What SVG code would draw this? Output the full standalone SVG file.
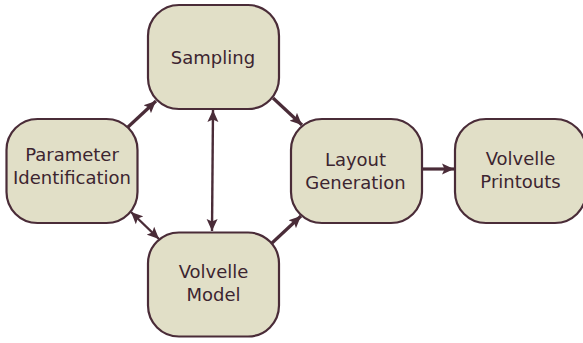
<svg xmlns="http://www.w3.org/2000/svg" width="583" height="343" viewBox="0 0 583 343">
<style>
.box{fill:#e1dfc7;stroke:#4a2c38;stroke-width:2.2}
.lbl{font-family:"DejaVu Sans",sans-serif;font-size:18px;fill:#3c2530;text-anchor:middle}
.c{fill:none;stroke:#4a2c38;stroke-width:3.2}
.c2{fill:none;stroke:#4a2c38;stroke-width:2.4}
.h{fill:#4a2c38}
</style>
<defs>
<marker id="a" markerUnits="userSpaceOnUse" markerWidth="14" markerHeight="12" refX="12" refY="6" orient="auto-start-reverse"><path class="h" d="M0,0.5L12,6L0,11.5L2.5,6Z"/></marker>
</defs>
<rect width="583" height="343" fill="#fff"/>
<g id="connectors">
<path class="c" d="M128,127L156,101" marker-end="url(#a)"/>
<path class="c" d="M273,98L302,125" marker-end="url(#a)"/>
<path class="c2" d="M213,110L212,231" marker-start="url(#a)" marker-end="url(#a)"/>
<path class="c2" d="M131,212L159,239" marker-start="url(#a)" marker-end="url(#a)"/>
<path class="c" d="M272,243L301,216" marker-end="url(#a)"/>
<path class="c" d="M423,169L454,169" marker-end="url(#a)"/>
</g>
<g id="sampling"><rect class="box" x="148" y="5" width="131" height="104" rx="31"/><text class="lbl" x="213" y="64">Sampling</text></g>
<g id="parameter"><rect class="box" x="6.500" y="119" width="131" height="104" rx="31"/><text class="lbl" x="72" y="161">Parameter</text><text class="lbl" x="72" y="184">Identification</text></g>
<g id="model"><rect class="box" x="148" y="232.500" width="131" height="104" rx="31"/><text class="lbl" x="213.500" y="278">Volvelle</text><text class="lbl" x="213.500" y="301">Model</text></g>
<g id="layout"><rect class="box" x="291" y="119" width="131" height="104" rx="31"/><text class="lbl" x="355.500" y="166">Layout</text><text class="lbl" x="355.500" y="189">Generation</text></g>
<g id="printouts"><rect class="box" x="455" y="119" width="131" height="104" rx="31"/><text class="lbl" x="520.500" y="165">Volvelle</text><text class="lbl" x="520.500" y="188">Printouts</text></g>
</svg>
